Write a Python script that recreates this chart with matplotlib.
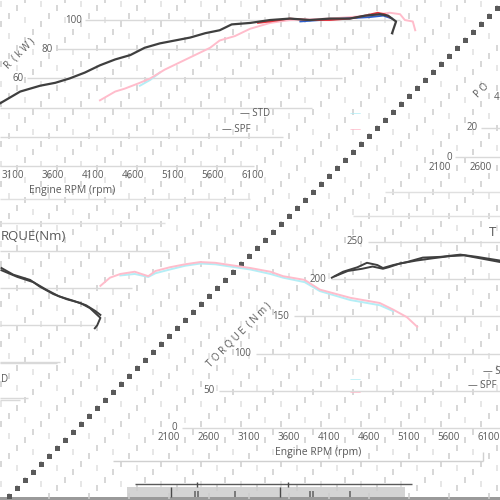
import numpy as np
import matplotlib.pyplot as plt
from matplotlib.patches import Rectangle

plt.rcParams['font.family'] = ['Open Sans', 'DejaVu Sans']

# power chart (top), values as they show in the picture
std_top_rpm = [2940, 3190, 3440, 3630, 3810, 4000, 4190, 4380, 4570, 4750, 4940, 5130, 5320,
               5510, 5690, 5840, 6070, 6320, 6570, 6820, 7070, 7320, 7510, 7700, 7800, 7900, 7850]
std_top_kw = [43, 51, 55, 57, 60, 64, 69, 73, 76, 81, 84, 86, 88,
              91, 93, 97, 98, 100, 101, 100, 101, 101, 103, 104, 103, 99, 91]
spf_top_rpm = [4190, 4380, 4500, 4690, 4820, 5000, 5190, 5380, 5570, 5690, 5880,
               6070, 6320, 6570, 7070, 7570, 7820, 7950, 8010, 8110, 8140]
spf_top_kw = [45, 51, 53, 57, 60, 66, 71, 76, 81, 86, 89,
              94, 98, 100, 101, 103, 105, 104, 100, 99, 93]
cyan_top_rpm = [4690, 4820, 4940]
cyan_top_kw = [55, 59, 64]
red_top_rpm = [6170, 6320, 6570, 6820, 7070, 7320, 7510, 7670, 7760, 7820]
red_top_kw = [98, 99, 101, 100, 100, 101, 103, 105, 104, 102]
blue_top_rpm = [6700, 6950, 7260, 7570, 7740, 7850]
blue_top_kw = [99, 100, 101, 102, 103, 101]
power_ticks = [100, 80, 60, 40, 20, 0]
top_rpm_ticks = [3100, 3600, 4100, 4600, 5100, 5600, 6100]

# torque chart (bottom)
spf_rpm = [1240, 1360, 1490, 1670, 1840, 1930, 2110, 2300, 2490, 2680, 2930,
           3120, 3370, 3530, 3800, 3990, 4370, 4740, 4910, 5080, 5210]
spf_nm = [191, 202, 207, 210, 204, 211, 216, 220, 223, 222, 218,
          215, 210, 204, 199, 186, 175, 168, 159, 149, 136]
cyan_rpm = [1490, 1670, 1840, 1930, 2110, 2300, 2490, 2680, 2930, 3120, 3370, 3530, 3800, 3990, 4370, 4740, 4910]
cyan_nm = [205, 207, 203, 208, 213, 218, 221, 220, 216, 213, 207, 202, 196, 184, 172, 165, 157]
std1_rpm = [4140, 4280, 4460, 4580, 4710, 4780, 4910, 5080, 5280, 5500, 5750, 5960, 6250]
std1_nm = [202, 210, 216, 222, 219, 215, 219, 223, 229, 230, 233, 230, 225]
std2_rpm = [4180, 4340, 4520, 4650, 4780, 4850, 4990, 5200, 5400, 5620, 5800, 6000, 6250]
std2_nm = [204, 211, 214, 217, 214, 216, 221, 225, 228, 231, 232, 228, 223]
std1_left_rpm = [0, 150, 360, 480, 650, 820, 990, 1110, 1240, 1200, 1170]
std1_left_nm = [215, 206, 199, 190, 180, 173, 168, 161, 148, 138, 134]
std2_left_rpm = [0, 200, 400, 560, 720, 900, 1060, 1180, 1240]
std2_left_nm = [212, 203, 196, 186, 177, 171, 165, 157, 152]
torque_ticks = [250, 200, 150, 100, 50, 0]
bot_rpm_ticks = [2100, 2600, 3100, 3600, 4100, 4600, 5100, 5600, 6100]

W = H = 500
GREY = '#595959'
GRID = '#d9d9d9'
BLACK = '#3f3f3f'
PINK = '#ffbccb'
CYAN = '#b4eef6'

fig = plt.figure(figsize=(5, 5), dpi=100)


def box(x0, x1, y0, y1):
    # pixel box (y down) -> figure fraction
    return [x0 / W, 1 - y1 / H, (x1 - x0) / W, (y1 - y0) / H]


def pix_y(ax, v):
    return H - ax.transData.transform((ax.get_xlim()[0], v))[1]


# background layer in pixels
bg = fig.add_axes([0, 0, 1, 1], zorder=0)
bg.set_xlim(0, W)
bg.set_ylim(H, 0)
bg.axis('off')

# sheared gridline traces
for c in np.arange(5, 1000, 20):
    main = int(c) % 40 == 25
    ys = np.arange(0 if main else 4, H, 8.0 if main else 16.0)
    xs = c - ys
    keep = (xs > 0) & (xs < W)
    col = '#cdcdcd' if main else '#e0e0e0'
    bg.plot(xs[keep], ys[keep], ls='none', marker='|', ms=4.8, mew=1.1, color=col)
ys = np.arange(0, H, 8.0)
bg.plot(505 - ys, ys, ls='none', marker='s', ms=3.6, mew=0, color='#5a5a5a')

# frames
bg.hlines([199, 223], 0, [250, 165], color='#e0e0e0', lw=1)
bg.hlines([192, 216], [385, 353], 500, color='#e0e0e0', lw=1)
bg.hlines(461, 113, 483, color='#d0d0d0', lw=1)
bg.vlines(483, 452, 461, color='#d0d0d0', lw=1)

# top chart
top = fig.add_axes(box(0, 420, 5, 166), zorder=1)
top.set_xlim(2937, 8200)
top.set_ylim(0, 110.3)
top.patch.set_alpha(0)
for s in top.spines.values():
    s.set_visible(False)
top.set_yticks([])
top.set_xticks(top_rpm_ticks)
top.tick_params(axis='x', length=0, pad=3, labelsize=7, labelcolor=GREY)
for v in power_ticks:
    yp = pix_y(top, v)
    bg.hlines(yp, max(0, 105 - yp), 420 - yp, color=GRID, lw=1)
    if 102 - yp > 12:
        bg.text(102 - yp, yp, str(v), ha='right', va='center', fontsize=7, color=GREY)
top.plot(cyan_top_rpm, cyan_top_kw, color=CYAN, lw=1.4)
top.plot(spf_top_rpm, spf_top_kw, color=PINK, lw=1.4)
top.plot(blue_top_rpm, blue_top_kw, color='#2e5fc9', lw=1.3)
top.plot(red_top_rpm, red_top_kw, color='#e8343c', lw=1.3)
top.plot(std_top_rpm, std_top_kw, color=BLACK, lw=1.6)
bg.text(72, 190, 'Engine RPM (rpm)', ha='center', va='center', fontsize=7.5, color=GREY)
bg.text(37, 44, 'R  ( k W )', rotation=45, rotation_mode='anchor',
        ha='right', va='bottom', fontsize=7, color=GREY)
bg.text(240, 114, '— STD', va='center', fontsize=7, color=GREY)
bg.text(222, 129, '— SPF', va='center', fontsize=7, color=GREY)
bg.text(350, 114, '—', va='center', fontsize=8, color=CYAN)
bg.text(350, 130, '—', va='center', fontsize=8, color=PINK)

# small piece of a third chart at top right
bg.text(452, 157, '0', ha='right', va='center', fontsize=7, color=GREY)
bg.text(478, 128, '20', ha='right', va='center', fontsize=7, color=GREY)
bg.text(499, 98, '4', ha='right', va='center', fontsize=7, color=GREY)
bg.hlines([157, 128], [455, 481], 500, color=GRID, lw=1)
bg.text(440, 167, '2100', ha='center', va='center', fontsize=7, color=GREY)
bg.text(481, 167, '2600', ha='center', va='center', fontsize=7, color=GREY)
bg.text(480, 100, 'P O', rotation=45, rotation_mode='anchor',
        ha='left', va='bottom', fontsize=7, color=GREY)

# bottom chart
bot = fig.add_axes(box(0, 500, 232, 428), zorder=1)
bot.set_xlim(-18, 6247)
bot.set_ylim(0, 263.4)
bot.patch.set_alpha(0)
for s in bot.spines.values():
    s.set_visible(False)
bot.set_yticks([])
bot.set_xticks(bot_rpm_ticks)
bot.tick_params(axis='x', length=0, pad=3, labelsize=7, labelcolor=GREY)
for v in torque_ticks:
    yp = pix_y(bot, v)
    bg.hlines(yp, 610 - yp, 500, color=GRID, lw=1)
    if 420 - (yp + 9) > 0:
        bg.hlines(yp + 9, 0, 420 - (yp + 9), color=GRID, lw=1)
    bg.text(605 - yp, yp, str(v), ha='right', va='center', fontsize=7, color=GREY)
bot.plot(cyan_rpm, cyan_nm, color=CYAN, lw=1.4)
bot.plot(spf_rpm, spf_nm, color=PINK, lw=1.4)
for xr, yv in [(std1_rpm, std1_nm), (std2_rpm, std2_nm),
               (std1_left_rpm, std1_left_nm), (std2_left_rpm, std2_left_nm)]:
    bot.plot(xr, yv, color=BLACK, lw=1.4)
bg.text(1, 237, 'RQUE(Nm)', ha='left', va='center', fontsize=9.5, color=GREY)
bg.text(489, 232, 'T', ha='left', va='center', fontsize=9.5, color=GREY)
bg.text(318, 452, 'Engine RPM (rpm)', ha='center', va='center', fontsize=7.5, color=GREY)
bg.text(213, 370, 'T O R Q U E  ( N m )', rotation=45, rotation_mode='anchor',
        ha='left', va='bottom', fontsize=7, color=GREY)
bg.text(483, 372, '— S', va='center', fontsize=7, color=GREY)
bg.text(468, 386, '— SPF', va='center', fontsize=7, color=GREY)
bg.text(1, 380, 'D', va='center', fontsize=7, color=GREY)
bg.text(350, 380, '—', va='center', fontsize=8, color=CYAN)
bg.text(350, 393, '—', va='center', fontsize=8, color=PINK)
bg.hlines([362, 398], 0, [60, 28], color=GRID, lw=1)

# scroll strip at the bottom
bg.add_patch(Rectangle((127, 487), 278, 10, fc='#d4d4d4', ec='none'))
bg.hlines(484, 135, 412, color='#5a5a5a', lw=1)
bg.vlines([171, 280], 487, 497, color='#4a4a4a', lw=1)
bg.vlines([197, 288], 482, 487, color='#4a4a4a', lw=1)
bg.vlines([195, 198, 235, 310, 313, 350], 491, 497, color='#6a6a6a', lw=1.2)
bg.add_patch(Rectangle((0, 497), 500, 3, fc='#9a9a9a', ec='none'))

fig.savefig('out.png', dpi=100)
